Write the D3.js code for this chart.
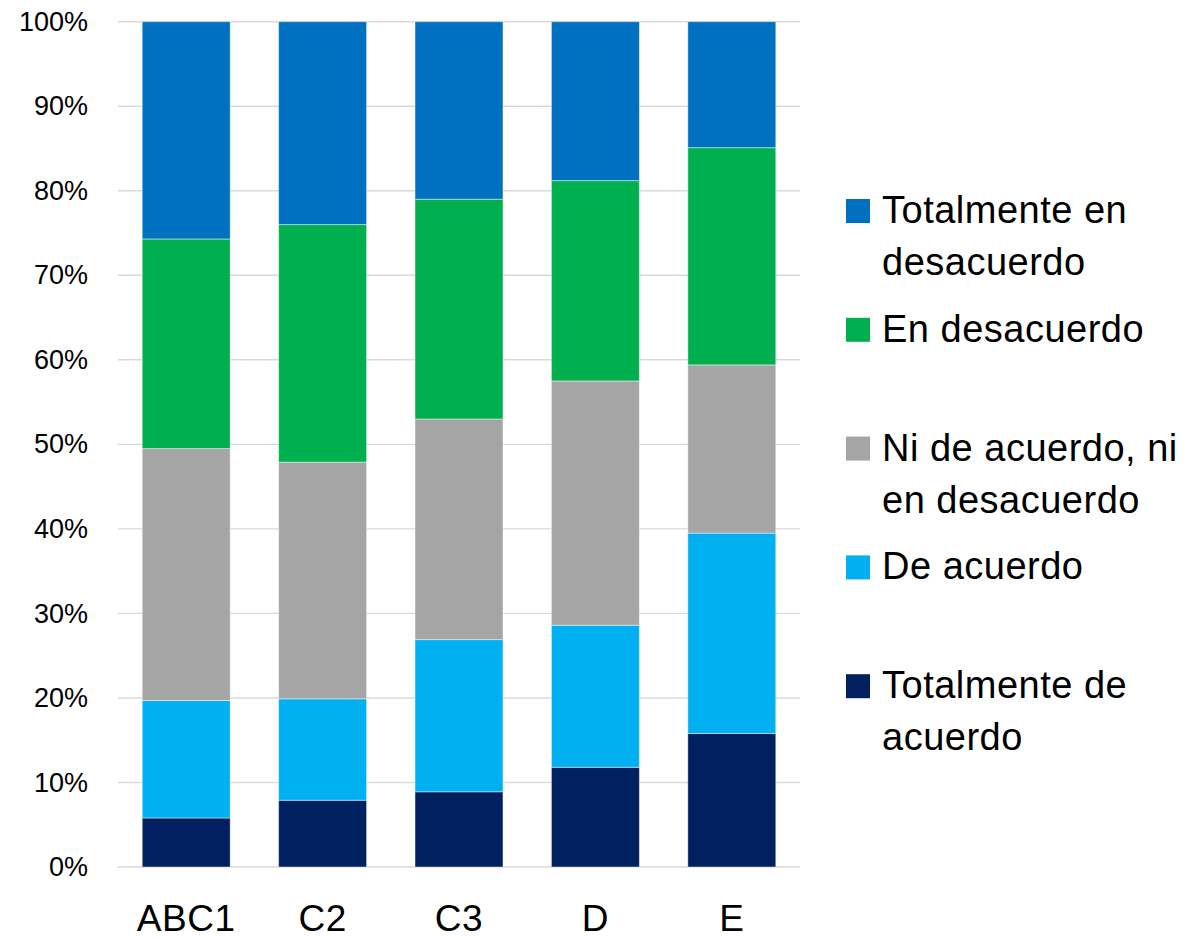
<!DOCTYPE html>
<html>
<head>
<meta charset="utf-8">
<script src="https://cdn.jsdelivr.net/npm/d3@7"></script>
<style>
  body { margin: 0; background: #fff; }
  svg { display: block; font-family: "Liberation Sans", Arial, sans-serif; }
</style>
</head>
<body>
<div id="chart"></div>
<script>
// categories (socioeconomic groups)
const categories = ['ABC1', 'C2', 'C3', 'D', 'E'];

// series values in %, bottom to top of each bar
const totalmenteDeAcuerdo = [5.8, 7.9, 8.9, 11.8, 15.8];
const deAcuerdo = [13.9, 12.0, 18.0, 16.8, 23.7];
const niNi = [29.8, 28.0, 26.1, 28.9, 19.9];
const enDesacuerdo = [24.8, 28.1, 26.0, 23.7, 25.7];
const totalmenteEnDesacuerdo = [25.7, 24.0, 21.0, 18.8, 14.9];

const seriesKeys = ['tda', 'da', 'nn', 'ed', 'ted'];
const seriesValues = [totalmenteDeAcuerdo, deAcuerdo, niNi, enDesacuerdo, totalmenteEnDesacuerdo];
const seriesColors = ['#002060', '#00B0F0', '#A5A5A5', '#00B050', '#0070C0'];

// legend is listed top to bottom
const legendLabels = [
    ['Totalmente en', 'desacuerdo'],
    ['En desacuerdo'],
    ['Ni de acuerdo, ni', 'en desacuerdo'],
    ['De acuerdo'],
    ['Totalmente de', 'acuerdo']
];
const legendColors = ['#0070C0', '#00B050', '#A5A5A5', '#00B0F0', '#002060'];

const yTicks = [0, 10, 20, 30, 40, 50, 60, 70, 80, 90, 100];

document.addEventListener('DOMContentLoaded', () => {
    const width = 1188;
    const height = 939;

    const svg = d3.select('#chart')
        .append('svg')
        .attr('width', width)
        .attr('height', height);

    const plot = { left: 118, right: 800, top: 21.7, bottom: 867 };

    const x = d3.scaleBand()
        .domain(categories)
        .range([plot.left, plot.right])
        .paddingInner(0.355)
        .paddingOuter(0.1775);

    const y = d3.scaleLinear()
        .domain([0, 100])
        .range([plot.bottom, plot.top]);

    // gridlines
    svg.append('g')
        .selectAll('line')
        .data(yTicks)
        .enter()
        .append('line')
        .attr('x1', plot.left)
        .attr('x2', plot.right)
        .attr('y1', d => y(d))
        .attr('y2', d => y(d))
        .attr('stroke', '#d9d9d9')
        .attr('stroke-width', 1.4);

    // y axis labels
    const yAxis = d3.axisLeft(y)
        .tickValues(yTicks)
        .tickFormat(d => d + '%')
        .tickSize(0)
        .tickPadding(30);

    svg.append('g')
        .attr('transform', `translate(${plot.left},0)`)
        .call(yAxis)
        .call(g => g.select('.domain').remove())
        .selectAll('text')
        .attr('font-size', 27)
        .attr('font-family', '"Liberation Sans", Arial, sans-serif')
        .attr('fill', '#000');

    // stacked rows
    const rows = categories.map((c, i) => {
        const row = { cat: c };
        seriesKeys.forEach((k, j) => { row[k] = seriesValues[j][i]; });
        return row;
    });

    const stacked = d3.stack().keys(seriesKeys)(rows);

    svg.append('g')
        .selectAll('g')
        .data(stacked)
        .enter()
        .append('g')
        .attr('fill', (d, i) => seriesColors[i])
        .selectAll('rect')
        .data(d => d)
        .enter()
        .append('rect')
        .attr('x', d => x(d.data.cat))
        .attr('width', x.bandwidth())
        .attr('y', d => y(d[1]))
        .attr('height', d => y(d[0]) - y(d[1]))
        .attr('stroke', 'rgba(255,255,255,0.45)')
        .attr('stroke-width', 1);

    // x axis labels
    const xAxis = d3.axisBottom(x).tickSize(0).tickPadding(38);

    svg.append('g')
        .attr('transform', `translate(0,${plot.bottom})`)
        .call(xAxis)
        .call(g => g.select('.domain').remove())
        .selectAll('text')
        .attr('font-size', 37)
        .attr('letter-spacing', 0.5)
        .attr('font-family', '"Liberation Sans", Arial, sans-serif')
        .attr('fill', '#000');

    // legend
    const legend = svg.append('g');
    const entries = legend.selectAll('g')
        .data(legendLabels)
        .enter()
        .append('g')
        .attr('transform', (d, i) => `translate(846,${223 + i * 118.8})`);

    entries.append('rect')
        .attr('x', 0)
        .attr('y', -24)
        .attr('width', 24)
        .attr('height', 24)
        .attr('fill', (d, i) => legendColors[i]);

    entries.append('text')
        .attr('x', 36)
        .attr('font-size', 38)
        .attr('letter-spacing', 0.5)
        .attr('fill', '#000')
        .selectAll('tspan')
        .data(d => d)
        .enter()
        .append('tspan')
        .attr('x', 36)
        .attr('dy', (d, i) => i === 0 ? 0 : 52)
        .text(d => d);
});
</script>
</body>
</html>
